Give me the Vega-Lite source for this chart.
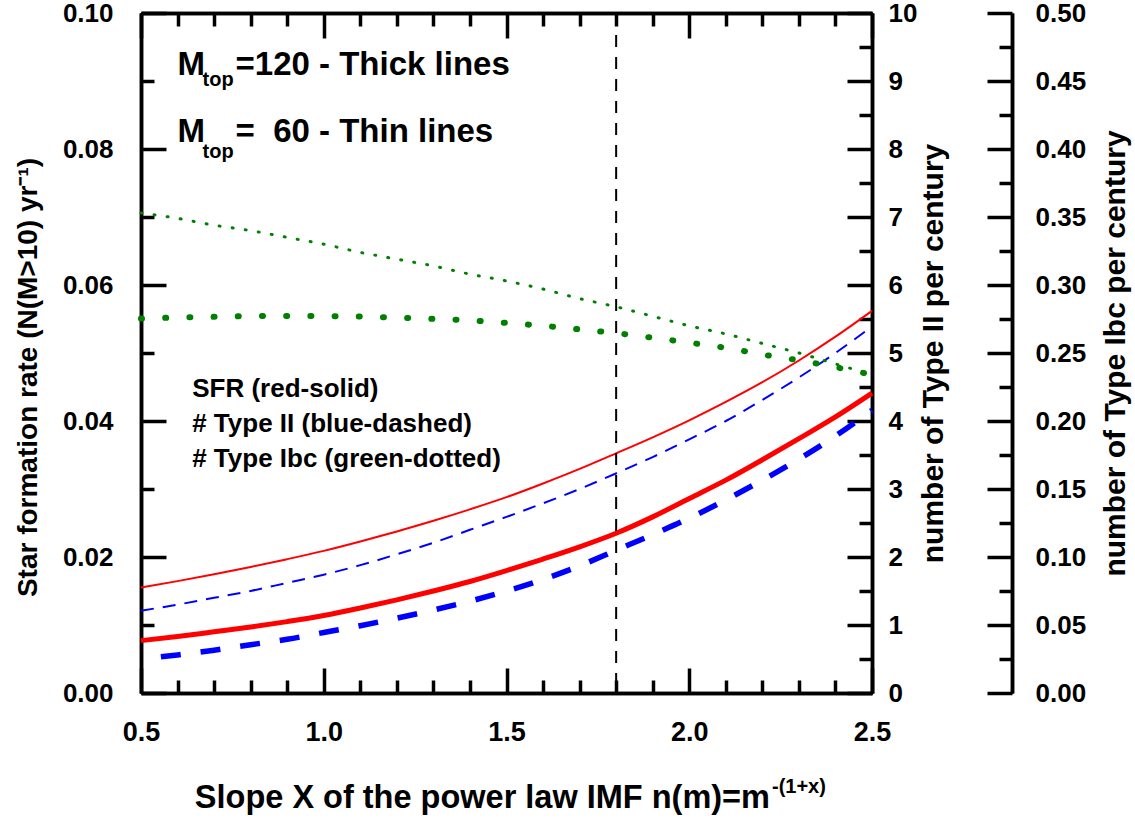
{
  "$schema": "https://vega.github.io/schema/vega-lite/v6.json",
  "width": 731,
  "height": 680,
  "autosize": {"type": "none"},
  "padding": {"left": 141, "top": 13, "right": 263, "bottom": 126},
  "background": "white",
  "config": {
    "view": {"stroke": null},
    "font": "Liberation Sans",
    "axis": {
      "grid": false,
      "domainColor": "black",
      "domainWidth": 3.5,
      "tickColor": "black",
      "tickWidth": 3.5,
      "labelFont": "Liberation Sans",
      "labelFontWeight": "bold",
      "labelFontSize": 26,
      "labelColor": "black",
      "labelFlush": false,
      "labelOverlap": false,
      "titleFont": "Liberation Sans",
      "titleFontWeight": "bold",
      "titleFontSize": 27,
      "titleColor": "black"
    }
  },
  "datasets": {
    "sfr": [
      {"x": 0.5, "mtop": 120, "sfr": 0.0077}, {"x": 0.6, "mtop": 120, "sfr": 0.0083}, {"x": 0.7, "mtop": 120, "sfr": 0.0090},
      {"x": 0.8, "mtop": 120, "sfr": 0.0097}, {"x": 0.9, "mtop": 120, "sfr": 0.0105}, {"x": 1.0, "mtop": 120, "sfr": 0.0114},
      {"x": 1.1, "mtop": 120, "sfr": 0.0125}, {"x": 1.2, "mtop": 120, "sfr": 0.0137}, {"x": 1.3, "mtop": 120, "sfr": 0.0150},
      {"x": 1.4, "mtop": 120, "sfr": 0.0164}, {"x": 1.5, "mtop": 120, "sfr": 0.0180}, {"x": 1.6, "mtop": 120, "sfr": 0.0197},
      {"x": 1.7, "mtop": 120, "sfr": 0.0215}, {"x": 1.8, "mtop": 120, "sfr": 0.0235}, {"x": 1.9, "mtop": 120, "sfr": 0.0259},
      {"x": 2.0, "mtop": 120, "sfr": 0.0286}, {"x": 2.1, "mtop": 120, "sfr": 0.0313}, {"x": 2.2, "mtop": 120, "sfr": 0.0343},
      {"x": 2.3, "mtop": 120, "sfr": 0.0374}, {"x": 2.4, "mtop": 120, "sfr": 0.0406}, {"x": 2.5, "mtop": 120, "sfr": 0.0441},
      {"x": 0.5, "mtop": 60, "sfr": 0.0155}, {"x": 0.6, "mtop": 60, "sfr": 0.01645}, {"x": 0.7, "mtop": 60, "sfr": 0.01746},
      {"x": 0.8, "mtop": 60, "sfr": 0.01854}, {"x": 0.9, "mtop": 60, "sfr": 0.01968}, {"x": 1.0, "mtop": 60, "sfr": 0.0209},
      {"x": 1.1, "mtop": 60, "sfr": 0.02228}, {"x": 1.2, "mtop": 60, "sfr": 0.02376}, {"x": 1.3, "mtop": 60, "sfr": 0.02533},
      {"x": 1.4, "mtop": 60, "sfr": 0.02701}, {"x": 1.5, "mtop": 60, "sfr": 0.0288}, {"x": 1.6, "mtop": 60, "sfr": 0.03081},
      {"x": 1.7, "mtop": 60, "sfr": 0.03295}, {"x": 1.8, "mtop": 60, "sfr": 0.03525}, {"x": 1.9, "mtop": 60, "sfr": 0.0376},
      {"x": 2.0, "mtop": 60, "sfr": 0.0401}, {"x": 2.1, "mtop": 60, "sfr": 0.0428}, {"x": 2.2, "mtop": 60, "sfr": 0.0457},
      {"x": 2.3, "mtop": 60, "sfr": 0.0489}, {"x": 2.4, "mtop": 60, "sfr": 0.0524}, {"x": 2.5, "mtop": 60, "sfr": 0.0562}
    ],
    "typeII": [
      {"x": 0.5, "mtop": 120, "n": 0.50}, {"x": 0.6, "mtop": 120, "n": 0.56}, {"x": 0.7, "mtop": 120, "n": 0.63},
      {"x": 0.8, "mtop": 120, "n": 0.71}, {"x": 0.9, "mtop": 120, "n": 0.79}, {"x": 1.0, "mtop": 120, "n": 0.89},
      {"x": 1.1, "mtop": 120, "n": 0.99}, {"x": 1.2, "mtop": 120, "n": 1.10}, {"x": 1.3, "mtop": 120, "n": 1.22},
      {"x": 1.4, "mtop": 120, "n": 1.35}, {"x": 1.5, "mtop": 120, "n": 1.50}, {"x": 1.6, "mtop": 120, "n": 1.67},
      {"x": 1.7, "mtop": 120, "n": 1.87}, {"x": 1.8, "mtop": 120, "n": 2.10}, {"x": 1.9, "mtop": 120, "n": 2.33},
      {"x": 2.0, "mtop": 120, "n": 2.57}, {"x": 2.1, "mtop": 120, "n": 2.84}, {"x": 2.2, "mtop": 120, "n": 3.13},
      {"x": 2.3, "mtop": 120, "n": 3.44}, {"x": 2.4, "mtop": 120, "n": 3.78}, {"x": 2.5, "mtop": 120, "n": 4.16},
      {"x": 0.5, "mtop": 60, "n": 1.21}, {"x": 0.6, "mtop": 60, "n": 1.30}, {"x": 0.7, "mtop": 60, "n": 1.40},
      {"x": 0.8, "mtop": 60, "n": 1.50}, {"x": 0.9, "mtop": 60, "n": 1.62}, {"x": 1.0, "mtop": 60, "n": 1.74},
      {"x": 1.1, "mtop": 60, "n": 1.88}, {"x": 1.2, "mtop": 60, "n": 2.04}, {"x": 1.3, "mtop": 60, "n": 2.21},
      {"x": 1.4, "mtop": 60, "n": 2.40}, {"x": 1.5, "mtop": 60, "n": 2.59}, {"x": 1.6, "mtop": 60, "n": 2.79},
      {"x": 1.7, "mtop": 60, "n": 3.00}, {"x": 1.8, "mtop": 60, "n": 3.23}, {"x": 1.9, "mtop": 60, "n": 3.47},
      {"x": 2.0, "mtop": 60, "n": 3.73}, {"x": 2.1, "mtop": 60, "n": 4.00}, {"x": 2.2, "mtop": 60, "n": 4.31},
      {"x": 2.3, "mtop": 60, "n": 4.64}, {"x": 2.4, "mtop": 60, "n": 5.00}, {"x": 2.5, "mtop": 60, "n": 5.39}
    ],
    "ibc": [
      {"x": 0.5, "mtop": 120, "n": 0.2753}, {"x": 0.6, "mtop": 120, "n": 0.2761}, {"x": 0.7, "mtop": 120, "n": 0.2766},
      {"x": 0.8, "mtop": 120, "n": 0.2771}, {"x": 0.9, "mtop": 120, "n": 0.2772}, {"x": 1.0, "mtop": 120, "n": 0.2771},
      {"x": 1.1, "mtop": 120, "n": 0.2768}, {"x": 1.2, "mtop": 120, "n": 0.2760}, {"x": 1.3, "mtop": 120, "n": 0.2751},
      {"x": 1.4, "mtop": 120, "n": 0.2740}, {"x": 1.5, "mtop": 120, "n": 0.2721}, {"x": 1.6, "mtop": 120, "n": 0.2700},
      {"x": 1.7, "mtop": 120, "n": 0.2674}, {"x": 1.8, "mtop": 120, "n": 0.2646}, {"x": 1.9, "mtop": 120, "n": 0.2612},
      {"x": 2.0, "mtop": 120, "n": 0.2576}, {"x": 2.1, "mtop": 120, "n": 0.2538}, {"x": 2.2, "mtop": 120, "n": 0.2489},
      {"x": 2.3, "mtop": 120, "n": 0.2446}, {"x": 2.4, "mtop": 120, "n": 0.2396}, {"x": 2.5, "mtop": 120, "n": 0.2340},
      {"x": 0.5, "mtop": 60, "n": 0.353}, {"x": 0.6, "mtop": 60, "n": 0.349}, {"x": 0.7, "mtop": 60, "n": 0.344},
      {"x": 0.8, "mtop": 60, "n": 0.340}, {"x": 0.9, "mtop": 60, "n": 0.335}, {"x": 1.0, "mtop": 60, "n": 0.330},
      {"x": 1.1, "mtop": 60, "n": 0.324}, {"x": 1.2, "mtop": 60, "n": 0.319}, {"x": 1.3, "mtop": 60, "n": 0.314},
      {"x": 1.4, "mtop": 60, "n": 0.308}, {"x": 1.5, "mtop": 60, "n": 0.303}, {"x": 1.6, "mtop": 60, "n": 0.297},
      {"x": 1.7, "mtop": 60, "n": 0.290}, {"x": 1.8, "mtop": 60, "n": 0.284}, {"x": 1.9, "mtop": 60, "n": 0.277},
      {"x": 2.0, "mtop": 60, "n": 0.270}, {"x": 2.1, "mtop": 60, "n": 0.264}, {"x": 2.2, "mtop": 60, "n": 0.257},
      {"x": 2.3, "mtop": 60, "n": 0.250}, {"x": 2.4, "mtop": 60, "n": 0.242}, {"x": 2.5, "mtop": 60, "n": 0.234}
    ]
  },
  "layer": [
    {
      "data": {"name": "sfr"},
      "layer": [
        {
          "transform": [{"filter": "datum.mtop == 120"}],
          "mark": {"type": "line", "color": "#ff0000", "strokeWidth": 5, "interpolate": "monotone"},
          "encoding": {
            "x": {"field": "x", "type": "quantitative", "scale": {"domain": [0.5, 2.5], "nice": false, "zero": false},
              "axis": {"orient": "bottom", "values": [0.5, 1, 1.5, 2, 2.5], "format": ".1f", "tickSize": -25, "labelPadding": 51, "labelFontSize": 27, "title": null}},
            "y": {"field": "sfr", "type": "quantitative", "scale": {"domain": [0, 0.1], "nice": false, "zero": false},
              "axis": {"orient": "left", "values": [0, 0.02, 0.04, 0.06, 0.08, 0.1], "format": ".2f", "tickSize": -25, "labelPadding": 53,
                "title": "Star formation rate (N(M>10) yr⁻¹)", "titleFontSize": 28, "titlePadding": 20, "titleY": 364}}
          }
        },
        {
          "transform": [{"filter": "datum.mtop == 60"}],
          "mark": {"type": "line", "color": "#ff0000", "strokeWidth": 2, "interpolate": "monotone"},
          "encoding": {
            "x": {"field": "x", "type": "quantitative", "scale": {"domain": [0.5, 2.5], "nice": false, "zero": false},
              "axis": {"orient": "bottom", "values": [0.6, 0.7, 0.8, 0.9, 1.1, 1.2, 1.3, 1.4, 1.6, 1.7, 1.8, 1.9, 2.1, 2.2, 2.3, 2.4], "tickSize": -13, "labels": false, "title": null}},
            "y": {"field": "sfr", "type": "quantitative", "scale": {"domain": [0, 0.1], "nice": false, "zero": false},
              "axis": {"orient": "left", "values": [0.01, 0.03, 0.05, 0.07, 0.09], "tickSize": -13, "labels": false, "title": null}}
          }
        },
        {
          "data": {"values": [{}]},
          "mark": {"type": "text", "text": "Slope X of the power law IMF n(m)=m", "font": "Liberation Sans", "fontWeight": "bold", "fontSize": 32.5, "align": "right", "baseline": "alphabetic", "color": "black"},
          "encoding": {
            "x": {"datum": 2.2209, "type": "quantitative", "scale": {"domain": [0.5, 2.5], "nice": false, "zero": false}, "axis": null},
            "y": {"datum": -0.0169, "type": "quantitative", "scale": {"domain": [0, 0.1], "nice": false, "zero": false}, "axis": null}
          }
        },
        {
          "data": {"values": [{}]},
          "mark": {"type": "text", "text": "-(1+x)", "font": "Liberation Sans", "fontWeight": "bold", "fontSize": 20, "align": "left", "baseline": "alphabetic", "color": "black", "dx": 2},
          "encoding": {
            "x": {"datum": 2.2209, "type": "quantitative", "scale": {"domain": [0.5, 2.5], "nice": false, "zero": false}, "axis": null},
            "y": {"datum": -0.0147, "type": "quantitative", "scale": {"domain": [0, 0.1], "nice": false, "zero": false}, "axis": null}
          }
        },
        {
          "data": {"values": [{}]},
          "mark": {"type": "text", "text": "M", "font": "Liberation Sans", "fontWeight": "bold", "fontSize": 33, "align": "left", "baseline": "alphabetic", "color": "black"},
          "encoding": {
            "x": {"datum": 0.6, "type": "quantitative", "scale": {"domain": [0.5, 2.5], "nice": false, "zero": false}, "axis": null},
            "y": {"datum": 0.0909, "type": "quantitative", "scale": {"domain": [0, 0.1], "nice": false, "zero": false}, "axis": null}
          }
        },
        {
          "data": {"values": [{}]},
          "mark": {"type": "text", "text": "top", "font": "Liberation Sans", "fontWeight": "bold", "fontSize": 20, "align": "left", "baseline": "alphabetic", "color": "black", "dx": 25, "dy": 11},
          "encoding": {
            "x": {"datum": 0.6, "type": "quantitative", "scale": {"domain": [0.5, 2.5], "nice": false, "zero": false}, "axis": null},
            "y": {"datum": 0.0909, "type": "quantitative", "scale": {"domain": [0, 0.1], "nice": false, "zero": false}, "axis": null}
          }
        },
        {
          "data": {"values": [{}]},
          "mark": {"type": "text", "text": "=120 - Thick lines", "font": "Liberation Sans", "fontWeight": "bold", "fontSize": 33, "align": "left", "baseline": "alphabetic", "color": "black", "dx": 58},
          "encoding": {
            "x": {"datum": 0.6, "type": "quantitative", "scale": {"domain": [0.5, 2.5], "nice": false, "zero": false}, "axis": null},
            "y": {"datum": 0.0909, "type": "quantitative", "scale": {"domain": [0, 0.1], "nice": false, "zero": false}, "axis": null}
          }
        },
        {
          "data": {"values": [{}]},
          "mark": {"type": "text", "text": "M", "font": "Liberation Sans", "fontWeight": "bold", "fontSize": 33, "align": "left", "baseline": "alphabetic", "color": "black"},
          "encoding": {
            "x": {"datum": 0.6, "type": "quantitative", "scale": {"domain": [0.5, 2.5], "nice": false, "zero": false}, "axis": null},
            "y": {"datum": 0.0811, "type": "quantitative", "scale": {"domain": [0, 0.1], "nice": false, "zero": false}, "axis": null}
          }
        },
        {
          "data": {"values": [{}]},
          "mark": {"type": "text", "text": "top", "font": "Liberation Sans", "fontWeight": "bold", "fontSize": 20, "align": "left", "baseline": "alphabetic", "color": "black", "dx": 25, "dy": 16},
          "encoding": {
            "x": {"datum": 0.6, "type": "quantitative", "scale": {"domain": [0.5, 2.5], "nice": false, "zero": false}, "axis": null},
            "y": {"datum": 0.0811, "type": "quantitative", "scale": {"domain": [0, 0.1], "nice": false, "zero": false}, "axis": null}
          }
        },
        {
          "data": {"values": [{}]},
          "mark": {"type": "text", "text": "=\u00a0\u00a060 - Thin lines", "font": "Liberation Sans", "fontWeight": "bold", "fontSize": 33, "align": "left", "baseline": "alphabetic", "color": "black", "dx": 58},
          "encoding": {
            "x": {"datum": 0.6, "type": "quantitative", "scale": {"domain": [0.5, 2.5], "nice": false, "zero": false}, "axis": null},
            "y": {"datum": 0.0811, "type": "quantitative", "scale": {"domain": [0, 0.1], "nice": false, "zero": false}, "axis": null}
          }
        },
        {
          "data": {"values": [{}]},
          "mark": {"type": "text", "text": "SFR (red-solid)", "font": "Liberation Sans", "fontWeight": "bold", "fontSize": 26, "align": "left", "baseline": "alphabetic", "color": "black"},
          "encoding": {
            "x": {"datum": 0.64, "type": "quantitative", "scale": {"domain": [0.5, 2.5], "nice": false, "zero": false}, "axis": null},
            "y": {"datum": 0.0436, "type": "quantitative", "scale": {"domain": [0, 0.1], "nice": false, "zero": false}, "axis": null}
          }
        },
        {
          "data": {"values": [{}]},
          "mark": {"type": "text", "text": "# Type II (blue-dashed)", "font": "Liberation Sans", "fontWeight": "bold", "fontSize": 26, "align": "left", "baseline": "alphabetic", "color": "black"},
          "encoding": {
            "x": {"datum": 0.64, "type": "quantitative", "scale": {"domain": [0.5, 2.5], "nice": false, "zero": false}, "axis": null},
            "y": {"datum": 0.0384, "type": "quantitative", "scale": {"domain": [0, 0.1], "nice": false, "zero": false}, "axis": null}
          }
        },
        {
          "data": {"values": [{}]},
          "mark": {"type": "text", "text": "# Type Ibc (green-dotted)", "font": "Liberation Sans", "fontWeight": "bold", "fontSize": 26, "align": "left", "baseline": "alphabetic", "color": "black"},
          "encoding": {
            "x": {"datum": 0.64, "type": "quantitative", "scale": {"domain": [0.5, 2.5], "nice": false, "zero": false}, "axis": null},
            "y": {"datum": 0.0333, "type": "quantitative", "scale": {"domain": [0, 0.1], "nice": false, "zero": false}, "axis": null}
          }
        }
      ],
      "resolve": {"axis": {"x": "independent", "y": "independent"}}
    },
    {
      "data": {"name": "typeII"},
      "layer": [
        {
          "transform": [{"filter": "datum.mtop == 120"}],
          "mark": {"type": "line", "color": "#0000ff", "strokeWidth": 5.5, "strokeDash": [20, 20], "strokeDashOffset": 20, "interpolate": "monotone"},
          "encoding": {
            "x": {"field": "x", "type": "quantitative", "scale": {"domain": [0.5, 2.5], "nice": false, "zero": false},
              "axis": {"orient": "top", "values": [0.5, 1, 1.5, 2, 2.5], "tickSize": -25, "labels": false, "title": null}},
            "y": {"field": "n", "type": "quantitative", "scale": {"domain": [0, 10], "nice": false, "zero": false},
              "axis": {"orient": "right", "values": [0, 1, 2, 3, 4, 5, 6, 7, 8, 9, 10], "format": "d", "tickSize": -25, "labelPadding": 41,
                "title": "number of Type II per century", "titleFontSize": 30, "titleAngle": 270, "titleBaseline": "top", "titlePadding": 2}}
          }
        },
        {
          "transform": [{"filter": "datum.mtop == 60"}],
          "mark": {"type": "line", "color": "#0000ff", "strokeWidth": 2, "strokeDash": [13, 9], "interpolate": "monotone"},
          "encoding": {
            "x": {"field": "x", "type": "quantitative", "scale": {"domain": [0.5, 2.5], "nice": false, "zero": false},
              "axis": {"orient": "top", "values": [0.6, 0.7, 0.8, 0.9, 1.1, 1.2, 1.3, 1.4, 1.6, 1.7, 1.8, 1.9, 2.1, 2.2, 2.3, 2.4], "tickSize": -13, "labels": false, "title": null}},
            "y": {"field": "n", "type": "quantitative", "scale": {"domain": [0, 10], "nice": false, "zero": false},
              "axis": {"orient": "right", "values": [0.5, 1.5, 2.5, 3.5, 4.5, 5.5, 6.5, 7.5, 8.5, 9.5], "tickSize": -13, "labels": false, "title": null}}
          }
        }
      ],
      "resolve": {"axis": {"x": "independent", "y": "independent"}}
    },
    {
      "data": {"name": "ibc"},
      "layer": [
        {
          "transform": [{"filter": "datum.mtop == 120"}],
          "mark": {"type": "line", "color": "#008000", "strokeWidth": 6, "strokeDash": [1, 23.2], "strokeCap": "round", "interpolate": "monotone"},
          "encoding": {
            "x": {"field": "x", "type": "quantitative", "scale": {"domain": [0.5, 2.5], "nice": false, "zero": false}, "axis": null},
            "y": {"field": "n", "type": "quantitative", "scale": {"domain": [0, 0.5], "nice": false, "zero": false},
              "axis": {"orient": "right", "offset": 140, "values": [0, 0.05, 0.1, 0.15, 0.2, 0.25, 0.3, 0.35, 0.4, 0.45, 0.5], "format": ".2f", "tickSize": -25, "labelPadding": 48,
                "title": "number of Type Ibc per century", "titleFontSize": 30, "titleAngle": 270, "titleBaseline": "top", "titlePadding": 15}}
          }
        },
        {
          "transform": [{"filter": "datum.mtop == 60"}],
          "mark": {"type": "line", "color": "#008000", "strokeWidth": 3, "strokeDash": [1, 12.2], "strokeCap": "round", "interpolate": "monotone"},
          "encoding": {
            "x": {"field": "x", "type": "quantitative", "scale": {"domain": [0.5, 2.5], "nice": false, "zero": false}, "axis": null},
            "y": {"field": "n", "type": "quantitative", "scale": {"domain": [0, 0.5], "nice": false, "zero": false},
              "axis": {"orient": "right", "offset": 140, "values": [0.025, 0.075, 0.125, 0.175, 0.225, 0.275, 0.325, 0.375, 0.425, 0.475], "tickSize": -13, "labels": false, "title": null}}
          }
        }
      ],
      "resolve": {"axis": {"x": "independent", "y": "independent"}}
    },
    {
      "data": {"values": [{}]},
      "mark": {"type": "rule", "color": "black", "strokeWidth": 2, "strokeDash": [12, 10]},
      "encoding": {
        "x": {"datum": 1.8, "type": "quantitative", "scale": {"domain": [0.5, 2.5], "nice": false, "zero": false}, "axis": null}
      }
    }
  ],
  "resolve": {"scale": {"y": "independent"}, "axis": {"x": "independent", "y": "independent"}}
}
